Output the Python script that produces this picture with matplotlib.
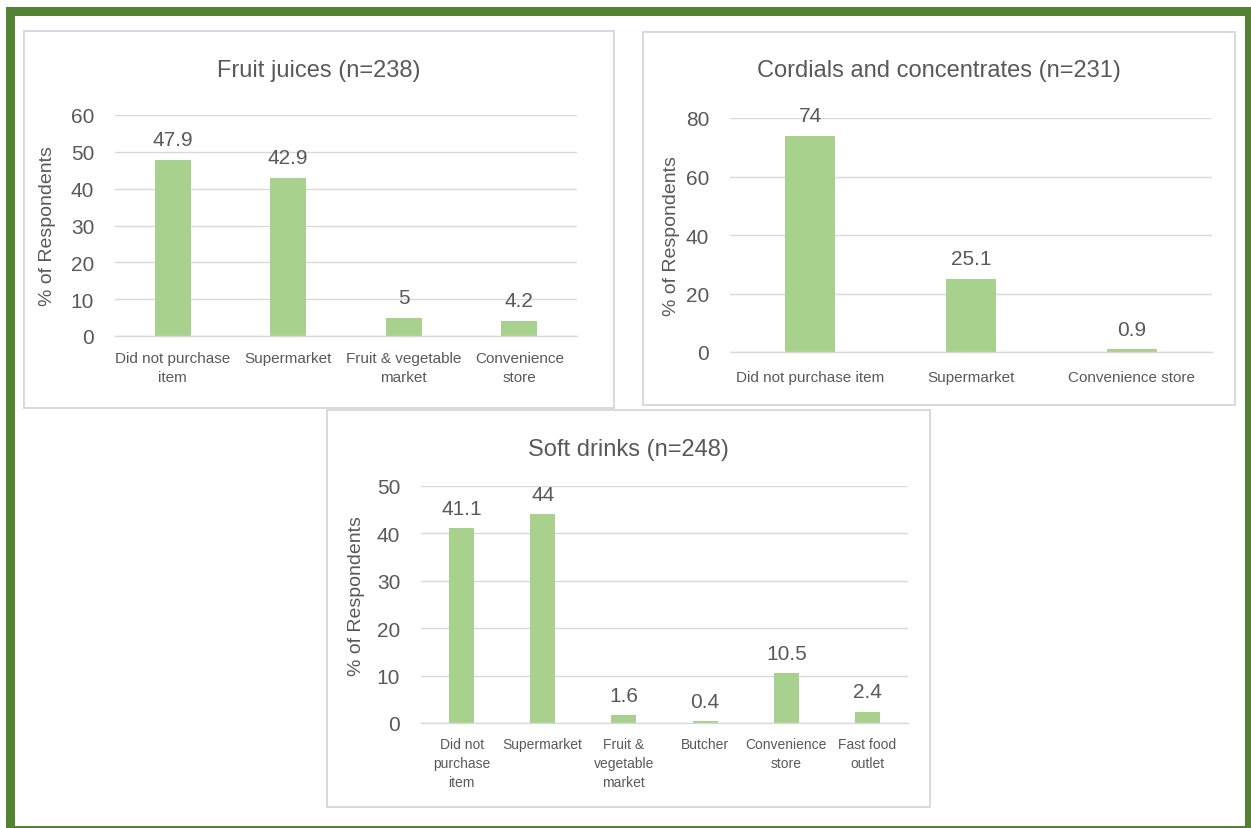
import matplotlib
matplotlib.use("Agg")
import matplotlib.pyplot as plt
from matplotlib.patches import Rectangle
from matplotlib import font_manager

# ---- data -------------------------------------------------------------
juice_title = "Fruit juices (n=238)"
juice_cats = ["Did not purchase\nitem", "Supermarket", "Fruit & vegetable\nmarket",
              "Convenience\nstore"]
juice_vals = [47.9, 42.9, 5, 4.2]
juice_ticks = [0, 10, 20, 30, 40, 50, 60]

cordial_title = "Cordials and concentrates (n=231)"
cordial_cats = ["Did not purchase item", "Supermarket", "Convenience store"]
cordial_vals = [74, 25.1, 0.9]
cordial_ticks = [0, 20, 40, 60, 80]

soft_title = "Soft drinks (n=248)"
soft_cats = ["Did not\npurchase\nitem", "Supermarket", "Fruit &\nvegetable\nmarket",
             "Butcher", "Convenience\nstore", "Fast food\noutlet"]
soft_vals = [41.1, 44, 1.6, 0.4, 10.5, 2.4]
soft_ticks = [0, 10, 20, 30, 40, 50]

ylabel = "% of Respondents"

# ---- style ------------------------------------------------------------
available = {f.name for f in font_manager.fontManager.ttflist}
family = ["Liberation Sans Narrow", "Liberation Sans", "DejaVu Sans"]
family = [f for f in family if f in available] or ["DejaVu Sans"]
plt.rcParams["font.family"] = family

TEXT = "#595959"
BAR = "#A9D18E"
GRID = "#D9D9D9"
FRAME = "#548235"

W, H = 1251, 829
fig = plt.figure(figsize=(W / 100, H / 100), dpi=100)


def px_rect(x0, y0, x1, y1):
    """Convert a pixel box (top-left origin) into figure fractions."""
    return [x0 / W, 1 - y1 / H, (x1 - x0) / W, (y1 - y0) / H]


# green outer frame
for (x0, y0, x1, y1) in [(6, 8, 1251, 17), (6, 8, 15, 829),
                         (1245, 8, 1251, 829), (6, 827, 1251, 829)]:
    l, b, w, h = px_rect(x0, y0, x1, y1)
    fig.add_artist(Rectangle((l, b), w, h, transform=fig.transFigure,
                             facecolor=FRAME, edgecolor="none", zorder=-2))


def panel(box, plot, title, title_y, cats, vals, ticks, ylab_x, ylab_y=0.5,
          cat_size=11, cat_pad=11, cat_spacing=1.4):
    # chart box outline
    l, b, w, h = px_rect(*box)
    fig.add_artist(Rectangle((l, b), w, h, transform=fig.transFigure,
                             facecolor="white", edgecolor=GRID, linewidth=1.4,
                             zorder=-1))
    fig.text((box[0] + box[2]) / 2 / W, 1 - title_y / H, title,
             ha="center", va="center", fontsize=17, color=TEXT)

    ax = fig.add_axes(px_rect(*plot))
    ax.set_facecolor("none")
    x = list(range(len(cats)))
    ax.bar(x, vals, width=0.31, color=BAR, zorder=3)
    for xi, v in zip(x, vals):
        ax.annotate(f"{v:g}", (xi, v), xytext=(0, 10.5), textcoords="offset points",
                    ha="center", va="baseline", fontsize=15, color=TEXT)
    ax.set_xlim(-0.5, len(cats) - 0.5)
    ax.set_ylim(ticks[0], ticks[-1])
    ax.set_yticks(ticks)
    ax.set_xticks(x)
    ax.set_xticklabels(cats, fontsize=cat_size, color=TEXT, linespacing=cat_spacing)
    ax.tick_params(axis="y", length=0, pad=15, labelsize=15, labelcolor=TEXT)
    ax.tick_params(axis="x", length=0, pad=cat_pad)
    ax.grid(axis="y", color=GRID, linewidth=1.0, zorder=0)
    for s in ["left", "right", "top"]:
        ax.spines[s].set_visible(False)
    ax.spines["bottom"].set_color(GRID)
    ax.spines["bottom"].set_linewidth(1.0)
    ax.spines["bottom"].set_zorder(4)
    ax.set_ylabel(ylabel, fontsize=14, color=TEXT)
    ax.yaxis.set_label_coords(ylab_x, ylab_y)
    return ax


panel((24, 32, 614, 409), (115, 116, 577, 337), juice_title, 71,
      juice_cats, juice_vals, juice_ticks, ylab_x=-0.128)
panel((643, 33, 1235, 406), (730, 119, 1212, 353), cordial_title, 71,
      cordial_cats, cordial_vals, cordial_ticks, ylab_x=-0.104, cat_pad=13)
panel((327, 411, 930, 808), (421, 487, 908, 724), soft_title, 450,
      soft_cats, soft_vals, soft_ticks, ylab_x=-0.116, ylab_y=0.54,
      cat_size=10, cat_pad=10, cat_spacing=1.45)

fig.savefig("out.png", dpi=100, facecolor="white")
